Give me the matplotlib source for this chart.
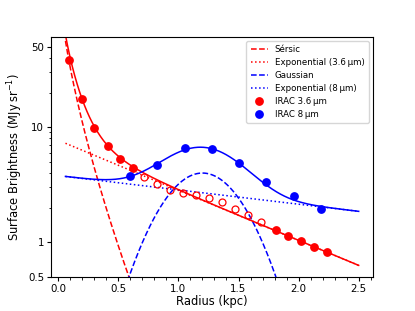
import numpy as np
import matplotlib
matplotlib.use("Agg")
import matplotlib.pyplot as plt
from matplotlib.ticker import FixedLocator, NullFormatter, MultipleLocator

# ---- data ----
irac36_r = [0.089, 0.195, 0.300, 0.412, 0.517, 0.625, 1.808, 1.914, 2.022, 2.130, 2.237]
irac36_I = [38.6, 17.4, 9.9, 6.9, 5.3, 4.4, 1.28, 1.14, 1.03, 0.92, 0.82]

open36_r = [0.717, 0.825, 0.933, 1.039, 1.148, 1.256, 1.364, 1.473, 1.581, 1.687]
open36_I = [3.73, 3.24, 2.87, 2.71, 2.60, 2.43, 2.23, 1.96, 1.72, 1.51]

irac8_r = [0.597, 0.825, 1.053, 1.278, 1.506, 1.731, 1.958, 2.183]
irac8_I = [3.80, 4.67, 6.57, 6.44, 4.90, 3.32, 2.53, 1.96]

# model parameters
sersic_Ie, sersic_re, sersic_n = 14.5, 0.173, 1.5
exp36_I0, exp36_h = 7.7, 1.0
gauss_A, gauss_mu, gauss_sigma = 4.0, 1.2, 0.30
exp8_I0, exp8_h = 3.8, 3.5
r_min, r_max = 0.06, 2.5

yticks = [0.5, 1, 10, 50]
yticklabels = ["0.5", "1", "10", "50"]

# ---- models ----
r = np.linspace(r_min, r_max, 600)
b_n = 2 * sersic_n - 1.0 / 3.0
sersic = sersic_Ie * np.exp(-b_n * ((r / sersic_re) ** (1.0 / sersic_n) - 1))
exp36 = exp36_I0 * np.exp(-r / exp36_h)
gauss = gauss_A * np.exp(-(r - gauss_mu) ** 2 / (2 * gauss_sigma ** 2))
exp8 = exp8_I0 * np.exp(-r / exp8_h)

fig = plt.figure(figsize=(4.15, 3.11), dpi=100)
ax = fig.add_axes([0.123, 0.109, 0.776, 0.773])

lw = 1.1
ax.plot(r, sersic, ls="--", color="red", lw=lw, label="Sérsic")
ax.plot(r, exp36, ls=":", color="red", lw=lw, label="Exponential (3.6\u2009µm)")
ax.plot(r, gauss, ls="--", color="blue", lw=lw, label="Gaussian")
ax.plot(r, exp8, ls=":", color="blue", lw=lw, label="Exponential (8\u2009µm)")
ax.plot(r, sersic + exp36, ls="-", color="red", lw=lw)
ax.plot(r, gauss + exp8, ls="-", color="blue", lw=lw)

ax.plot(irac36_r, irac36_I, "o", color="red", ms=5.3, ls="none", label="IRAC 3.6\u2009µm")
ax.plot(irac8_r, irac8_I, "o", color="blue", ms=5.3, ls="none", label="IRAC 8\u2009µm")
ax.plot(open36_r, open36_I, "o", mfc="none", mec="red", mew=0.9, ms=5.0, ls="none")

ax.set_yscale("log")
ax.set_xlim(-0.06, 2.62)
ax.set_ylim(0.5, 61)
ax.yaxis.set_major_locator(FixedLocator(yticks))
ax.set_yticklabels(yticklabels)
ax.yaxis.set_minor_locator(FixedLocator([2, 3, 4, 5, 6, 7, 8, 9, 20, 30, 40]))
ax.yaxis.set_minor_formatter(NullFormatter())
ax.xaxis.set_major_locator(MultipleLocator(0.5))
ax.xaxis.set_minor_locator(MultipleLocator(0.1))
ax.tick_params(which="major", labelsize=7.4, length=3, pad=2)
ax.tick_params(which="minor", length=1.8)

ax.set_xlabel("Radius (kpc)", fontsize=8.3, labelpad=1)
ax.set_ylabel("Surface Brightness (MJy\u2009sr$^{-1}$)", fontsize=8.3, labelpad=2)

ax.legend(loc="upper right", fontsize=6.2, frameon=True, handlelength=2.0,
          borderpad=0.5, labelspacing=0.45)

fig.savefig("out.png", dpi=100)
